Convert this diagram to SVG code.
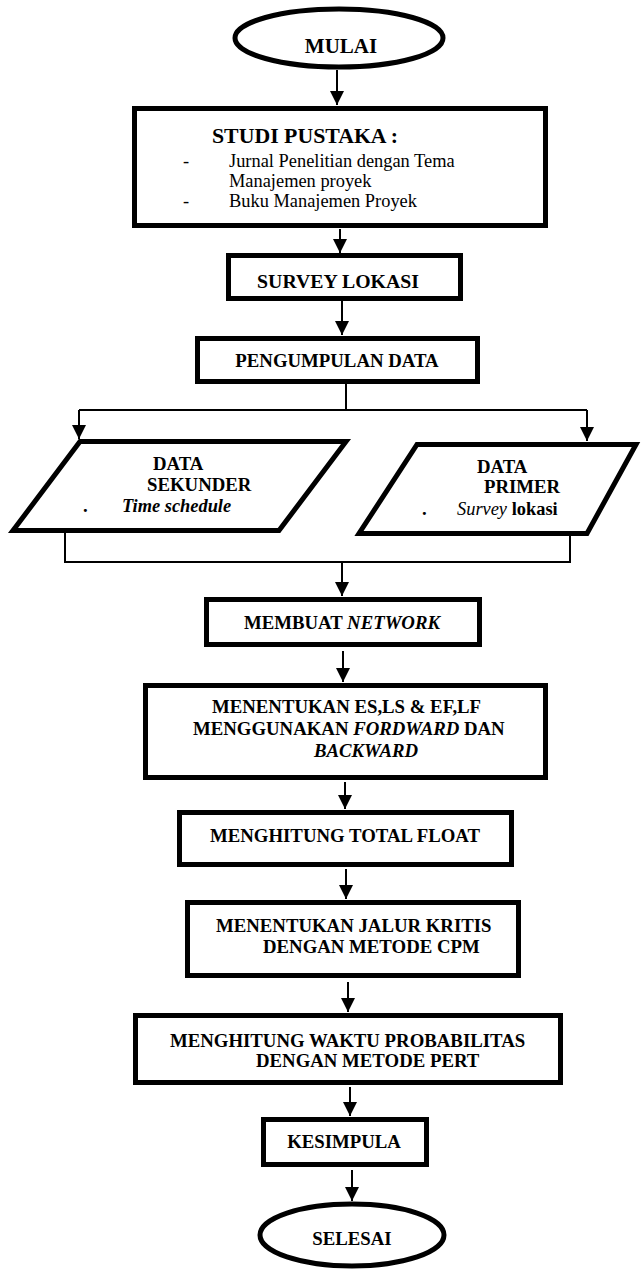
<svg xmlns="http://www.w3.org/2000/svg" width="642" height="1269" viewBox="0 0 642 1269">
<style>
.box{fill:#fff;stroke:#000;stroke-width:5}
.ln{fill:none;stroke:#000;stroke-width:2}
.t{font-family:"Liberation Serif","Times New Roman",serif;fill:#000}
.b{font-weight:bold;font-size:18.8px}
.r{font-size:18.4px}
.i{font-style:italic}
</style>
<defs>
<marker id="ah" markerUnits="userSpaceOnUse" markerWidth="16" markerHeight="16" refX="14" refY="7" orient="auto">
<path d="M0,0 L14,7 L0,14 Z" fill="#000"/>
</marker>
</defs>
<rect width="642" height="1269" fill="#fff"/>
<g id="connectors">
<line class="ln" x1="337" y1="70" x2="337" y2="105" marker-end="url(#ah)"/>
<line class="ln" x1="340" y1="229" x2="340" y2="253" marker-end="url(#ah)"/>
<line class="ln" x1="342" y1="301" x2="342" y2="335" marker-end="url(#ah)"/>
<polyline class="ln" points="346,384 346,410"/>
<polyline class="ln" points="79,410 587,410"/>
<line class="ln" x1="79" y1="410" x2="79" y2="439" marker-end="url(#ah)"/>
<line class="ln" x1="587" y1="410" x2="587" y2="441" marker-end="url(#ah)"/>
<polyline class="ln" points="65,533 65,562 570,562 570,535"/>
<line class="ln" x1="342" y1="562" x2="342" y2="596" marker-end="url(#ah)"/>
<line class="ln" x1="343" y1="651" x2="343" y2="682" marker-end="url(#ah)"/>
<line class="ln" x1="345" y1="782" x2="345" y2="809" marker-end="url(#ah)"/>
<line class="ln" x1="346" y1="869" x2="346" y2="899" marker-end="url(#ah)"/>
<line class="ln" x1="348" y1="982" x2="348" y2="1012" marker-end="url(#ah)"/>
<line class="ln" x1="350" y1="1087" x2="350" y2="1116" marker-end="url(#ah)"/>
<line class="ln" x1="352" y1="1170" x2="352" y2="1201" marker-end="url(#ah)"/>
</g>
<g id="mulai">
<ellipse class="box" cx="339" cy="38" rx="104" ry="29"/>
<text class="t b" x="341" y="53" text-anchor="middle" style="font-size:21px">MULAI</text>
</g>
<g id="studi">
<rect class="box" x="134.5" y="108.5" width="411" height="117"/>
<text class="t b" x="212" y="143" style="font-size:21.8px">STUDI PUSTAKA :</text>
<text class="t r" x="183" y="167">-</text>
<text class="t r" x="229" y="167">Jurnal Penelitian dengan Tema</text>
<text class="t r" x="229" y="187">Manajemen proyek</text>
<text class="t r" x="183" y="207">-</text>
<text class="t r" x="229" y="207">Buku Manajemen Proyek</text>
</g>
<g id="survey">
<rect class="box" x="228.5" y="255.5" width="232" height="43"/>
<text class="t b" x="338" y="288" text-anchor="middle" style="font-size:19.8px">SURVEY LOKASI</text>
</g>
<g id="pengumpulan">
<rect class="box" x="197.5" y="338.5" width="280" height="43"/>
<text class="t b" x="337" y="367" text-anchor="middle">PENGUMPULAN DATA</text>
</g>
<g id="sekunder">
<path class="box" d="M80,441.5 L346,441.5 L279,530.5 L13,530.5 Z"/>
<text class="t b" x="153" y="470">DATA</text>
<text class="t b" x="147" y="491">SEKUNDER</text>
<text class="t b" x="83" y="512">.</text>
<text class="t b i" x="122" y="512" style="font-size:18.4px">Time schedule</text>
</g>
<g id="primer">
<path class="box" d="M417,444.5 L636,444.5 L587,533.5 L359,533.5 Z"/>
<text class="t b" x="477" y="473">DATA</text>
<text class="t b" x="484" y="493">PRIMER</text>
<text class="t b" x="422" y="515">.</text>
<text class="t" x="457" y="515" style="font-size:18.4px"><tspan font-style="italic">Survey</tspan> <tspan font-weight="bold">lokasi</tspan></text>
</g>
<g id="network">
<rect class="box" x="206.5" y="599.5" width="273" height="45"/>
<text class="t b" x="342" y="629" text-anchor="middle">MEMBUAT <tspan font-style="italic">NETWORK</tspan></text>
</g>
<g id="esls">
<rect class="box" x="145.5" y="685.5" width="400" height="92"/>
<text class="t b" x="212" y="713">MENENTUKAN ES,LS &amp; EF,LF</text>
<text class="t b" x="193" y="735">MENGGUNAKAN <tspan font-style="italic">FORDWARD</tspan> DAN</text>
<text class="t b i" x="314" y="757">BACKWARD</text>
</g>
<g id="totalfloat">
<rect class="box" x="179.5" y="812.5" width="332" height="52"/>
<text class="t b" x="345" y="842" text-anchor="middle">MENGHITUNG TOTAL FLOAT</text>
</g>
<g id="jalur">
<rect class="box" x="187.5" y="902.5" width="331" height="73"/>
<text class="t b" x="216" y="932">MENENTUKAN JALUR KRITIS</text>
<text class="t b" x="263" y="953">DENGAN METODE CPM</text>
</g>
<g id="pert">
<rect class="box" x="135.5" y="1015.5" width="425" height="67"/>
<text class="t b" x="170" y="1047">MENGHITUNG WAKTU PROBABILITAS</text>
<text class="t b" x="256" y="1067">DENGAN METODE PERT</text>
</g>
<g id="kesimpula">
<rect class="box" x="263.5" y="1119.5" width="163" height="45"/>
<text class="t b" x="344" y="1148" text-anchor="middle">KESIMPULA</text>
</g>
<g id="selesai">
<ellipse class="box" cx="352" cy="1235" rx="92" ry="31"/>
<text class="t b" x="352" y="1245" text-anchor="middle">SELESAI</text>
</g>
</svg>
